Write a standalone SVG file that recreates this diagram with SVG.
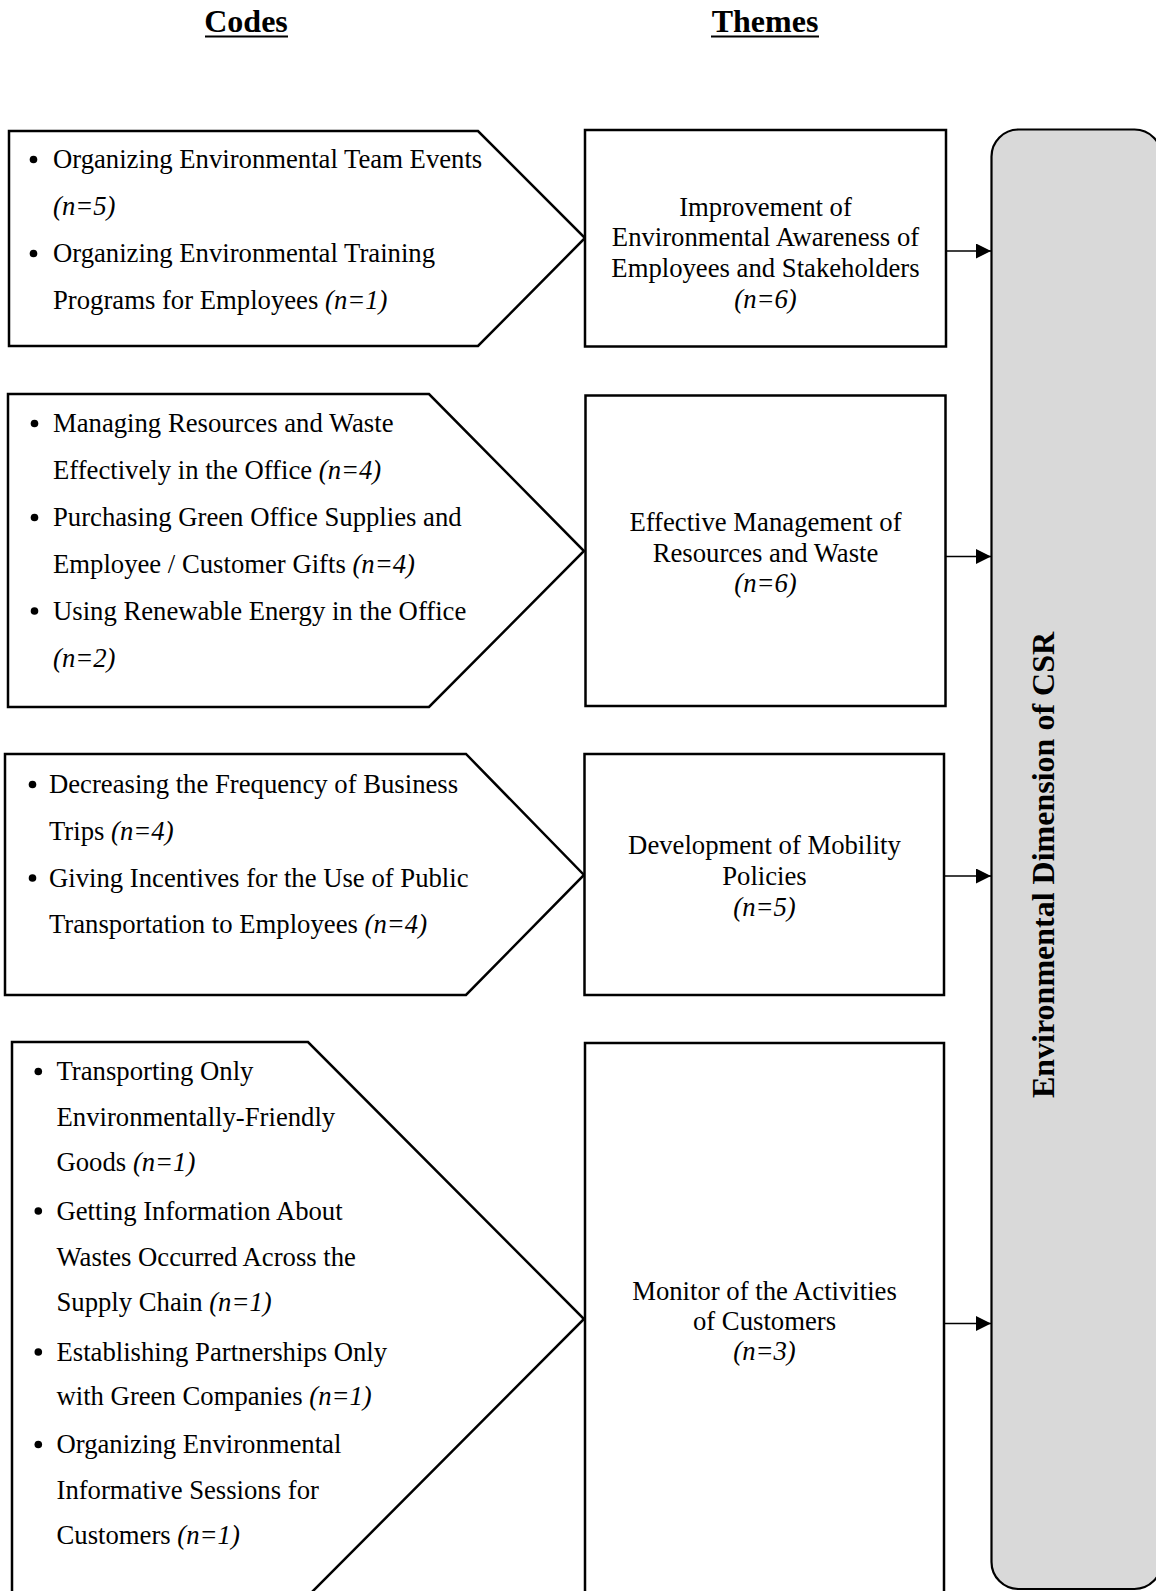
<svg xmlns="http://www.w3.org/2000/svg" width="1156" height="1591" viewBox="0 0 1156 1591">
<style>
  text { font-family: "Liberation Serif", "Times New Roman", serif; fill: #000; }
  .hdr { font-size: 32px; font-weight: bold; text-anchor: middle; }
  .code { font-size: 26.7px; }
  .theme { font-size: 26.7px; text-anchor: middle; }
  .it { font-style: italic; }
  .shape { fill: #fff; stroke: #000; stroke-width: 2.5; }
  .bul { fill: #000; }
  .conn { stroke: #000; stroke-width: 1.5; fill: none; }
  .main { fill: #d9d9d9; stroke: #000; stroke-width: 2.2; }
  .csr { font-size: 32px; font-weight: bold; text-anchor: middle; }
</style>
<defs>
  <marker id="arr" markerWidth="16" markerHeight="16" refX="15" refY="7.5" orient="auto" markerUnits="userSpaceOnUse">
    <path d="M0,0 L15,7.5 L0,15 Z" fill="#000"/>
  </marker>
</defs>
<rect width="1156" height="1591" fill="#fff"/>

<g id="headers">
  <text class="hdr" x="246" y="32">Codes</text>
  <line x1="205" y1="36.5" x2="288" y2="36.5" stroke="#000" stroke-width="2"/>
  <text class="hdr" x="765" y="32">Themes</text>
  <line x1="711" y1="36.5" x2="819" y2="36.5" stroke="#000" stroke-width="2"/>
</g>

<g id="code1">
  <polygon class="shape" points="9,131 478,131 585,238 478,346 9,346"/>
  <circle class="bul" cx="33.5" cy="159.5" r="3.8"/>
  <text class="code" x="53" y="168">Organizing Environmental Team Events</text>
  <text class="code it" x="53" y="215">(n=5)</text>
  <circle class="bul" cx="33.5" cy="253.5" r="3.8"/>
  <text class="code" x="53" y="262">Organizing Environmental Training</text>
  <text class="code" x="53" y="309">Programs for Employees <tspan class="it">(n=1)</tspan></text>
</g>

<g id="code2">
  <polygon class="shape" points="8,394 429,394 584,551 429,707 8,707"/>
  <circle class="bul" cx="34.5" cy="423.5" r="3.8"/>
  <text class="code" x="53" y="432">Managing Resources and Waste</text>
  <text class="code" x="53" y="479">Effectively in the Office <tspan class="it">(n=4)</tspan></text>
  <circle class="bul" cx="34.5" cy="517.5" r="3.8"/>
  <text class="code" x="53" y="526">Purchasing Green Office Supplies and</text>
  <text class="code" x="53" y="572.5">Employee / Customer Gifts <tspan class="it">(n=4)</tspan></text>
  <circle class="bul" cx="34.5" cy="611" r="3.8"/>
  <text class="code" x="53" y="619.5">Using Renewable Energy in the Office</text>
  <text class="code it" x="53" y="666.5">(n=2)</text>
</g>

<g id="code3">
  <polygon class="shape" points="5,754 466,754 584,875 466,995 5,995"/>
  <circle class="bul" cx="32.5" cy="784.5" r="3.8"/>
  <text class="code" x="49" y="793">Decreasing the Frequency of Business</text>
  <text class="code" x="49" y="839.5">Trips <tspan class="it">(n=4)</tspan></text>
  <circle class="bul" cx="32.5" cy="878" r="3.8"/>
  <text class="code" x="49" y="886.5">Giving Incentives for the Use of Public</text>
  <text class="code" x="49" y="933">Transportation to Employees <tspan class="it">(n=4)</tspan></text>
</g>

<g id="code4">
  <polygon class="shape" points="12,1042 308,1042 584,1319 308,1596 12,1596"/>
  <circle class="bul" cx="38.3" cy="1071.5" r="3.8"/>
  <text class="code" x="56.5" y="1080">Transporting Only</text>
  <text class="code" x="56.5" y="1125.6">Environmentally-Friendly</text>
  <text class="code" x="56.5" y="1171">Goods <tspan class="it">(n=1)</tspan></text>
  <circle class="bul" cx="38.3" cy="1211" r="3.8"/>
  <text class="code" x="56.5" y="1219.6">Getting Information About</text>
  <text class="code" x="56.5" y="1265.8">Wastes Occurred Across the</text>
  <text class="code" x="56.5" y="1311">Supply Chain <tspan class="it">(n=1)</tspan></text>
  <circle class="bul" cx="38.3" cy="1352" r="3.8"/>
  <text class="code" x="56.5" y="1360.5">Establishing Partnerships Only</text>
  <text class="code" x="56.5" y="1405">with Green Companies <tspan class="it">(n=1)</tspan></text>
  <circle class="bul" cx="38.3" cy="1444.5" r="3.8"/>
  <text class="code" x="56.5" y="1453">Organizing Environmental</text>
  <text class="code" x="56.5" y="1499">Informative Sessions for</text>
  <text class="code" x="56.5" y="1544.4">Customers <tspan class="it">(n=1)</tspan></text>
</g>

<g id="theme1">
  <rect class="shape" x="585" y="130" width="361" height="216.5"/>
  <text class="theme" x="765.5" y="215.5">Improvement of</text>
  <text class="theme" x="765.5" y="246">Environmental Awareness of</text>
  <text class="theme" x="765.5" y="276.5">Employees and Stakeholders</text>
  <text class="theme it" x="765.5" y="307.5">(n=6)</text>
</g>

<g id="theme2">
  <rect class="shape" x="585.5" y="395.5" width="360" height="310.5"/>
  <text class="theme" x="765.5" y="530.7">Effective Management of</text>
  <text class="theme" x="765.5" y="561.5">Resources and Waste</text>
  <text class="theme it" x="765.5" y="592">(n=6)</text>
</g>

<g id="theme3">
  <rect class="shape" x="584.5" y="754" width="359.5" height="241"/>
  <text class="theme" x="764.5" y="853.5">Development of Mobility</text>
  <text class="theme" x="764.5" y="885">Policies</text>
  <text class="theme it" x="764.5" y="916">(n=5)</text>
</g>

<g id="theme4">
  <rect class="shape" x="585" y="1043" width="359" height="560"/>
  <text class="theme" x="764.5" y="1299.7">Monitor of the Activities</text>
  <text class="theme" x="764.5" y="1330">of Customers</text>
  <text class="theme it" x="764.5" y="1360">(n=3)</text>
</g>

<g id="csr">
  <rect class="main" x="991.5" y="129.5" width="170" height="1459.5" rx="27" ry="27"/>
  <text class="csr" transform="translate(1053.5,865) rotate(-90)" x="0" y="0">Environmental Dimension of CSR</text>
</g>

<g id="connectors">
  <line class="conn" x1="946" y1="251" x2="991" y2="251" marker-end="url(#arr)"/>
  <line class="conn" x1="945.5" y1="556.5" x2="991" y2="556.5" marker-end="url(#arr)"/>
  <line class="conn" x1="944" y1="876" x2="991" y2="876" marker-end="url(#arr)"/>
  <line class="conn" x1="944" y1="1323.5" x2="991" y2="1323.5" marker-end="url(#arr)"/>
</g>
</svg>
